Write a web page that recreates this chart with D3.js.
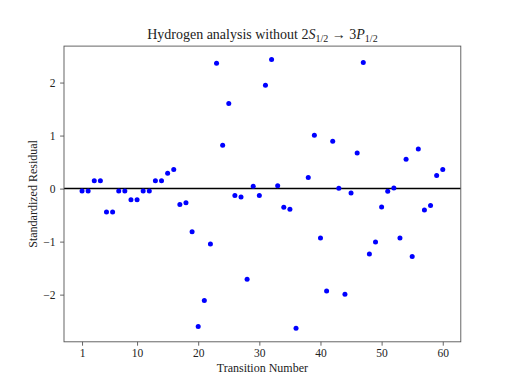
<!DOCTYPE html>
<meta charset="utf-8">
<style>
    body { margin: 0; background: #fff; }
    text { font-family: "Liberation Serif", "DejaVu Serif", serif; fill: #222; }
</style>
<body>
<svg width="512" height="384"></svg>
<script src="https://d3js.org/d3.v7.min.js"></script>
<script>
    // transition numbers (37 is the one left out of this fit)
    var transitions = [1, 2, 3, 4, 5, 6, 7, 8, 9, 10,
        11, 12, 13, 14, 15, 16, 17, 18, 19, 20,
        21, 22, 23, 24, 25, 26, 27, 28, 29, 30,
        31, 32, 33, 34, 35, 36, 38, 39, 40,
        41, 42, 43, 44, 45, 46, 47, 48, 49, 50,
        51, 52, 53, 54, 55, 56, 57, 58, 59, 60];

    // standardized residuals
    var residuals = [-0.045, -0.045, 0.15, 0.15, -0.44, -0.44, -0.045, -0.045, -0.21, -0.21,
        -0.045, -0.045, 0.15, 0.15, 0.29, 0.36, -0.30, -0.265, -0.815, -2.60,
        -2.11, -1.045, 2.365, 0.817, 1.604, -0.13, -0.16, -1.711, 0.043, -0.13,
        1.949, 2.434, 0.056, -0.353, -0.39, -2.636, 0.207, 1.006, -0.932,
        -1.932, 0.892, 0.006, -1.994, -0.083, 0.672, 2.377, -1.234, -1.007, -0.346,
        -0.051, 0.011, -0.932, 0.553, -1.283, 0.747, -0.403, -0.321, 0.245, 0.358];

    var xTicks = [1, 10, 20, 30, 40, 50, 60];
    var yTicks = [-2, -1, 0, 1, 2];

    var svg = d3.select("svg"),
        width = +svg.attr("width"),
        height = +svg.attr("height");

    var margin = {left: 64, right: 51.2, top: 46.1, bottom: 42.2};
    var x0 = margin.left, x1 = width - margin.right,
        y0 = margin.top, y1 = height - margin.bottom;

    // matplotlib style 5% padding around the data
    var xmin = d3.min(transitions), xmax = d3.max(transitions),
        ymin = d3.min(residuals), ymax = d3.max(residuals);
    var xpad = (xmax - xmin) * 0.05, ypad = (ymax - ymin) * 0.05;

    var x = d3.scaleLinear().domain([xmin - xpad, xmax + xpad]).range([x0, x1]);
    var y = d3.scaleLinear().domain([ymin - ypad, ymax + ypad]).range([y1, y0]);

    // zero line
    svg.append("line")
        .attr("x1", x0).attr("x2", x1)
        .attr("y1", y(0)).attr("y2", y(0))
        .attr("stroke", "#000")
        .attr("stroke-width", 1.5);

    var data = transitions.map(function(t, i) { return {t: t, r: residuals[i]}; });

    svg.append("g").selectAll("circle")
        .data(data)
        .enter().append("circle")
        .attr("cx", function(d) { return x(d.t); })
        .attr("cy", function(d) { return y(d.r); })
        .attr("r", 2.5)
        .attr("fill", "#0000ff");

    var xAxis = svg.append("g")
        .attr("transform", "translate(0," + y1 + ")")
        .call(d3.axisBottom(x).tickValues(xTicks).tickSize(3.9).tickPadding(3.3));
    var yAxis = svg.append("g")
        .attr("transform", "translate(" + x0 + ",0)")
        .call(d3.axisLeft(y).tickValues(yTicks).tickSize(3.9).tickPadding(4.5)
            .tickFormat(function(d) { return d < 0 ? "\u2212" + (-d) : d; }));

    [xAxis, yAxis].forEach(function(a) {
        a.select(".domain").remove();
        a.selectAll("line").attr("stroke", "#555").attr("stroke-width", 0.9);
        a.selectAll("text").attr("font-size", 11.5)
            .attr("font-family", "Liberation Serif").attr("fill", "#333");
    });

    // frame
    svg.append("rect")
        .attr("x", x0).attr("y", y0)
        .attr("width", x1 - x0).attr("height", y1 - y0)
        .attr("fill", "none")
        .attr("stroke", "#555")
        .attr("stroke-width", 0.9);

    svg.append("text")
        .attr("x", (x0 + x1) / 2)
        .attr("y", 372)
        .attr("text-anchor", "middle")
        .attr("font-size", 12)
        .text("Transition Number");

    svg.append("text")
        .attr("transform", "translate(37," + ((y0 + y1) / 2) + ") rotate(-90)")
        .attr("text-anchor", "middle")
        .attr("font-size", 12)
        .text("Standardized Residual");

    // title with subscripts
    var title = svg.append("text")
        .attr("x", (x0 + x1) / 2)
        .attr("y", 39.3)
        .attr("text-anchor", "middle")
        .attr("font-size", 14);
    title.append("tspan").text("Hydrogen analysis without 2");
    title.append("tspan").attr("font-style", "italic").text("S");
    title.append("tspan").attr("font-size", 10).attr("dy", 2.5).text("1/2");
    title.append("tspan").attr("dy", -2.5).text(" \u2192 3");
    title.append("tspan").attr("font-style", "italic").text("P");
    title.append("tspan").attr("font-size", 10).attr("dy", 2.5).text("1/2");
</script>
</body>
